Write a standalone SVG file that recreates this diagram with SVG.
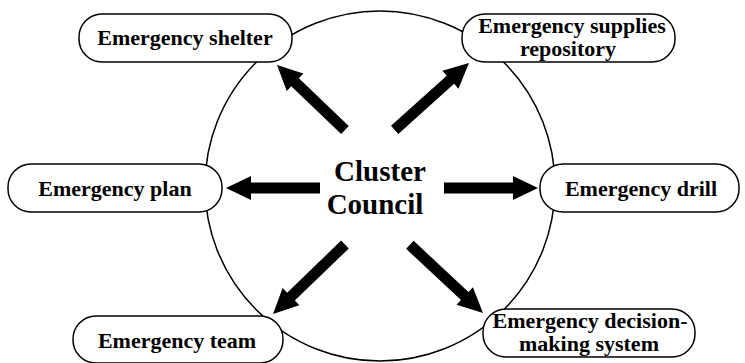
<svg xmlns="http://www.w3.org/2000/svg" xmlns:xlink="http://www.w3.org/1999/xlink" width="745" height="363" viewBox="0 0 745 363">
<style>
.box{fill:#fff;stroke:#000;stroke-width:1.5}
.t{font-family:"Liberation Serif","Times New Roman",serif;font-weight:bold;font-size:22px;fill:#000;text-anchor:middle}
.c{font-size:29px}
</style>
<defs>
<path id="arr" d="M0,0 L-25,-12 L-25,-5.5 L-94,-5.5 L-94,5.5 L-25,5.5 L-25,12 Z" fill="#000"/>
<path id="arrL" d="M0,0 L-25,-12 L-25,-5.5 L-100,-5.5 L-100,5.5 L-25,5.5 L-25,12 Z" fill="#000"/>
</defs>
<rect width="745" height="363" fill="#fff"/>
<g id="council">
<circle cx="380" cy="186" r="175" fill="none" stroke="#000" stroke-width="1.5"/>
<text class="t c" x="380" y="181">Cluster</text>
<text class="t c" x="375" y="214">Council</text>
</g>
<g id="connectors">
<use xlink:href="#arr" transform="translate(277,65) rotate(-136.3)"/>
<use xlink:href="#arrL" transform="translate(469,63) rotate(-42)"/>
<use xlink:href="#arr" transform="translate(226,188) rotate(180)"/>
<use xlink:href="#arr" transform="translate(538,188)"/>
<use xlink:href="#arrL" transform="translate(273,314) rotate(136)"/>
<use xlink:href="#arrL" transform="translate(483,313) rotate(43)"/>
</g>
<g id="shelter"><rect class="box" x="79" y="14" width="213" height="48" rx="23"/><text class="t" x="185" y="45">Emergency shelter</text></g>
<g id="supplies"><rect class="box" x="462" y="14" width="213" height="48" rx="23"/><text class="t" x="572" y="33">Emergency supplies</text><text class="t" x="568" y="56">repository</text></g>
<g id="plan"><rect class="box" x="8" y="164" width="214" height="48" rx="23"/><text class="t" x="115" y="196">Emergency plan</text></g>
<g id="drill"><rect class="box" x="540" y="164" width="199" height="48" rx="23"/><text class="t" x="641" y="196">Emergency drill</text></g>
<g id="team"><rect class="box" x="73" y="316" width="210" height="47" rx="23"/><text class="t" x="177" y="348">Emergency team</text></g>
<g id="decision"><rect class="box" x="483" y="309" width="212" height="48" rx="23"/><text class="t" x="590" y="328">Emergency decision-</text><text class="t" x="589" y="351">making system</text></g>
</svg>
